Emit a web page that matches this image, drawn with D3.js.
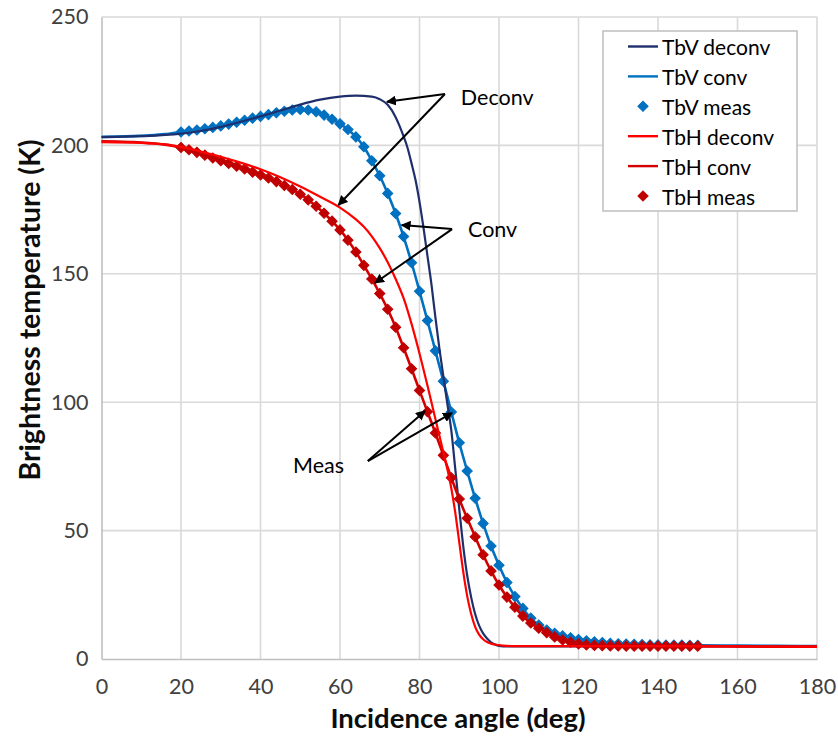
<!DOCTYPE html>
<html>
<head>
<meta charset="utf-8">
<script src="https://cdn.jsdelivr.net/npm/d3@7"></script>
<style>
  html, body { margin: 0; padding: 0; background: #fff; }
  svg { display: block; font-family: Lato, "Open Sans", sans-serif; }
</style>
</head>
<body>
<svg id="chart" width="838" height="736"></svg>
<script>
// ---- Data -----------------------------------------------------------
const xTicks = [0, 20, 40, 60, 80, 100, 120, 140, 160, 180];
const yTicks = [0, 50, 100, 150, 200, 250];

// Measured brightness temperatures (2-degree steps, 20..150 deg)
const measAngles = [20,22,24,26,28,30,32,34,36,38,40,42,44,46,48,50,52,54,56,58,
  60,62,64,66,68,70,72,74,76,78,80,82,84,86,88,90,92,94,96,98,100,102,104,106,108,
  110,112,114,116,118,120,122,124,126,128,130,132,134,136,138,140,142,144,146,148,150];
const tbvMeas = [205.2,205.6,206.0,206.5,207.0,207.6,208.3,209.0,209.8,210.6,
  211.3,212.0,212.7,213.3,213.8,214.0,213.8,213.1,211.8,210.2,
  208.4,206.2,203.3,199.5,194.0,188.2,181.3,173.5,164.5,154.3,
  143.2,131.8,120.0,108.2,96.2,84.2,73.2,62.6,52.8,44.0,
  36.5,29.8,24.3,19.7,15.9,13.2,11.3,10.0,9.0,8.3,
  7.6,7.1,6.7,6.4,6.1,5.9,5.8,5.7,5.6,5.5,
  5.5,5.4,5.4,5.4,5.3,5.3];
const tbhMeas = [199.2,198.3,197.3,196.2,195.1,194.0,193.0,191.9,190.8,189.6,
  188.5,187.3,185.9,184.4,182.8,181.0,178.8,176.3,173.6,170.5,
  167.1,163.1,158.5,153.3,148.0,142.3,136.2,129.2,121.2,113.0,
  104.6,96.3,88.0,79.3,70.6,62.3,54.8,47.6,40.6,34.3,
  28.8,24.1,20.2,16.7,14.0,12.0,10.2,8.6,7.4,6.5,
  5.9,5.5,5.3,5.2,5.1,5.1,5.0,5.0,5.0,5.0,
  5.0,5.0,5.0,5.0,5.0,5.0];

// Convolved model curves
const convAngles = [0,4,8,12,16,18,20,22,24,26,28,30,32,34,36,38,40,42,44,46,48,50,
  52,54,56,58,60,62,64,66,68,70,72,74,76,78,80,82,84,86,88,90,92,94,96,98,100,
  102,104,106,108,110,112,114,116,118,120,122,124,126,128,130,132,134,136,138,140,
  142,144,146,148,150,160,170,180];
const tbvConv = [203.3,203.4,203.6,203.9,204.4,204.8,
  205.2,205.6,206.0,206.5,207.0,207.6,208.3,209.0,209.8,210.6,
  211.3,212.0,212.7,213.3,213.8,214.0,213.8,213.1,211.8,210.2,
  208.4,206.2,203.3,199.5,194.0,188.2,181.3,173.5,164.5,154.3,
  143.2,131.8,120.0,108.2,96.2,84.2,73.2,62.6,52.8,44.0,
  36.5,29.8,24.3,19.7,15.9,13.2,11.3,10.0,9.0,8.3,
  7.6,7.1,6.7,6.4,6.1,5.9,5.8,5.7,5.6,5.5,
  5.5,5.4,5.4,5.4,5.3,5.3,5.2,5.1,5.0];
const tbhConv = [201.6,201.5,201.3,200.9,200.3,199.8,
  199.2,198.3,197.3,196.2,195.1,194.0,193.0,191.9,190.8,189.6,
  188.5,187.3,185.9,184.4,182.8,181.0,178.8,176.3,173.6,170.5,
  167.1,163.1,158.5,153.3,148.0,142.3,136.2,129.2,121.2,113.0,
  104.6,96.3,88.0,79.3,70.6,62.3,54.8,47.6,40.6,34.3,
  28.8,24.1,20.2,16.7,14.0,12.0,10.2,8.6,7.4,6.5,
  5.9,5.5,5.3,5.2,5.1,5.1,5.0,5.0,5.0,5.0,
  5.0,5.0,5.0,5.0,5.0,5.0,4.9,4.8,4.8];

// Deconvolved curves
const tbvDeconvAngles = [0,10,20,25,30,35,40,45,50,55,60,64,68,70,72,74,75,76,77,78,79,80,
  81,82,83,84,85,86,87,88,89,90,91,92,93,94,95,96,97,98,99,100,102,110,120,140,160,180];
const tbvDeconv = [203.2,203.6,204.6,205.6,207.2,209.2,211.3,213.6,215.9,217.8,219.0,219.4,219.0,218.0,
  215.8,211.0,207.5,203.5,199.0,193.0,186.5,178.0,168.0,157.0,146.0,133.0,121.0,110.0,99.5,
  89.0,74.0,58.5,44.0,32.5,24.0,17.5,13.0,10.0,8.0,6.5,5.6,5.1,4.9,4.9,4.9,4.9,4.9,4.9];
const tbhDeconvAngles = [0,10,17,20,25,30,35,40,45,50,55,60,64,66,68,70,72,74,76,78,80,82,
  84,86,87,88,89,90,91,92,93,94,95,96,97,98,100,102,104,110,120,140,160,180];
const tbhDeconv = [201.3,201.0,200.2,199.4,197.6,195.6,193.3,190.7,187.6,184.0,180.0,175.8,171.2,
  168.3,164.6,160.0,154.5,148.0,140.5,130.5,119.0,106.5,93.5,80.5,74.0,66.5,57.0,45.5,34.0,
  24.5,17.5,12.5,9.5,7.7,6.6,6.0,5.4,5.1,5.0,5.0,5.0,5.0,4.9,4.8];

// Arrow annotations, in data units [angle, temperature]
const notes = [
  { text: "Deconv", at: [90.4, 218.8], from: [86.4, 220.0], to: [[71.8, 217.0], [59.6, 176.8]] },
  { text: "Conv",   at: [92.2, 167.4], from: [88.2, 167.4], to: [[75.5, 169.0], [68.8, 146.4]] },
  { text: "Meas",   at: [48.2, 75.5],  from: [67.0, 77.1],  to: [[81.4, 96.6], [88.2, 95.8]] }
];

const seriesNames = ["TbV deconv", "TbV conv", "TbV meas", "TbH deconv", "TbH conv", "TbH meas"];

// ---- Layout ---------------------------------------------------------
const svg = d3.select("#chart");
const plot = { left: 101.5, right: 817, top: 17, bottom: 659 };

const x = d3.scaleLinear().domain([0, 180]).range([plot.left, plot.right]);
const y = d3.scaleLinear().domain([0, 250]).range([plot.bottom, plot.top]);

const gridColor = "#d9d9d9";
const colors = {
  tbvDeconv: "#1f2f6b",
  tbvConv: "#0070c0",
  tbvMeas: "#0070c0",
  tbhDeconv: "#ff0000",
  tbhConv: "#d40000",
  tbhMeas: "#c00000"
};

// Gridlines
const grid = svg.append("g");
grid.selectAll("line.v").data(xTicks.slice(1)).join("line")
  .attr("x1", d => x(d)).attr("x2", d => x(d))
  .attr("y1", plot.top).attr("y2", plot.bottom)
  .attr("stroke", gridColor).attr("stroke-width", 1.6);
grid.selectAll("line.h").data(yTicks.slice(1)).join("line")
  .attr("x1", plot.left).attr("x2", plot.right)
  .attr("y1", d => y(d)).attr("y2", d => y(d))
  .attr("stroke", gridColor).attr("stroke-width", 1.6);

// Axes (lines + labels)
const xAxis = d3.axisBottom(x).tickValues(xTicks).tickSize(0).tickPadding(20);
const yAxis = d3.axisLeft(y).tickValues(yTicks).tickSize(0).tickPadding(13);

const gx = svg.append("g").attr("transform", `translate(0,${plot.bottom})`).call(xAxis);
const gy = svg.append("g").attr("transform", `translate(${plot.left},0)`).call(yAxis);
[gx, gy].forEach(g => {
  g.select(".domain").attr("stroke", "#bfbfbf").attr("stroke-width", 1.6);
  g.selectAll("text").attr("font-size", 21.5).attr("fill", "#404040")
    .attr("font-family", "Lato, sans-serif");
});

// Axis titles
svg.append("text")
  .attr("x", 458).attr("y", 728)
  .attr("text-anchor", "middle")
  .attr("font-size", 27.5).attr("font-weight", "bold").attr("fill", "#0d0d0d")
  .text("Incidence angle (deg)");
svg.append("text")
  .attr("transform", `translate(40,310) rotate(-90)`)
  .attr("text-anchor", "middle")
  .attr("font-size", 28.5).attr("font-weight", "bold").attr("fill", "#0d0d0d")
  .text("Brightness temperature (K)");

// ---- Series ---------------------------------------------------------
const line = d3.line().x(d => x(d[0])).y(d => y(d[1])).curve(d3.curveMonotoneX);
const zipXY = (a, b) => a.map((v, i) => [v, b[i]]);

const series = svg.append("g");
function drawLine(pts, color, width) {
  series.append("path").datum(pts)
    .attr("d", line).attr("fill", "none")
    .attr("stroke", color).attr("stroke-width", width)
    .attr("stroke-linejoin", "round");
}
const diamond = d3.symbol().type(d3.symbolSquare).size(52);
function drawMarkers(pts, color) {
  series.append("g").selectAll("path").data(pts).join("path")
    .attr("d", diamond)
    .attr("transform", d => `translate(${x(d[0])},${y(d[1])}) rotate(45)`)
    .attr("fill", color).attr("stroke", color).attr("stroke-width", 1);
}

drawLine(zipXY(convAngles, tbvConv), colors.tbvConv, 2.6);
drawMarkers(zipXY(measAngles, tbvMeas), colors.tbvMeas);
drawLine(zipXY(tbvDeconvAngles, tbvDeconv), colors.tbvDeconv, 2.2);
drawLine(zipXY(convAngles, tbhConv), colors.tbhConv, 2.6);
drawMarkers(zipXY(measAngles, tbhMeas), colors.tbhMeas);
drawLine(zipXY(tbhDeconvAngles, tbhDeconv), colors.tbhDeconv, 2.2);

// ---- Annotations ----------------------------------------------------
const defs = svg.append("defs");
defs.append("marker").attr("id", "arrowhead")
  .attr("viewBox", "0 0 10 10").attr("refX", 9).attr("refY", 5)
  .attr("markerWidth", 5).attr("markerHeight", 5)
  .attr("markerUnits", "strokeWidth").attr("orient", "auto")
  .append("path").attr("d", "M0,0 L10,5 L0,10 Z").attr("fill", "#000");

const ann = svg.append("g");
notes.forEach(n => {
  n.to.forEach(t => {
    ann.append("line")
      .attr("x1", x(n.from[0])).attr("y1", y(n.from[1]))
      .attr("x2", x(t[0])).attr("y2", y(t[1]))
      .attr("stroke", "#000").attr("stroke-width", 2)
      .attr("marker-end", "url(#arrowhead)");
  });
  ann.append("text")
    .attr("x", x(n.at[0])).attr("y", y(n.at[1]))
    .attr("dominant-baseline", "central")
    .attr("font-size", 21.5).attr("fill", "#000")
    .text(n.text);
});

// ---- Legend ---------------------------------------------------------
const legend = svg.append("g");
legend.append("rect")
  .attr("x", 603).attr("y", 31).attr("width", 194).attr("height", 180)
  .attr("fill", "#fff").attr("stroke", "#bfbfbf").attr("stroke-width", 1.5);
const legendKinds = ["line", "line", "marker", "line", "line", "marker"];
const legendColors = [colors.tbvDeconv, colors.tbvConv, colors.tbvMeas,
                      colors.tbhDeconv, colors.tbhConv, colors.tbhMeas];
seriesNames.forEach((name, i) => {
  const cy = 46.5 + i * 29.9;
  if (legendKinds[i] === "line") {
    legend.append("line").attr("x1", 628).attr("x2", 658)
      .attr("y1", cy).attr("y2", cy)
      .attr("stroke", legendColors[i]).attr("stroke-width", 2.4);
  } else {
    legend.append("path").attr("d", diamond)
      .attr("transform", `translate(643,${cy}) rotate(45)`)
      .attr("fill", legendColors[i]).attr("stroke", legendColors[i]);
  }
  legend.append("text").attr("x", 662).attr("y", cy)
    .attr("dominant-baseline", "central")
    .attr("font-size", 21).attr("fill", "#000")
    .text(name);
});
</script>
</body>
</html>
